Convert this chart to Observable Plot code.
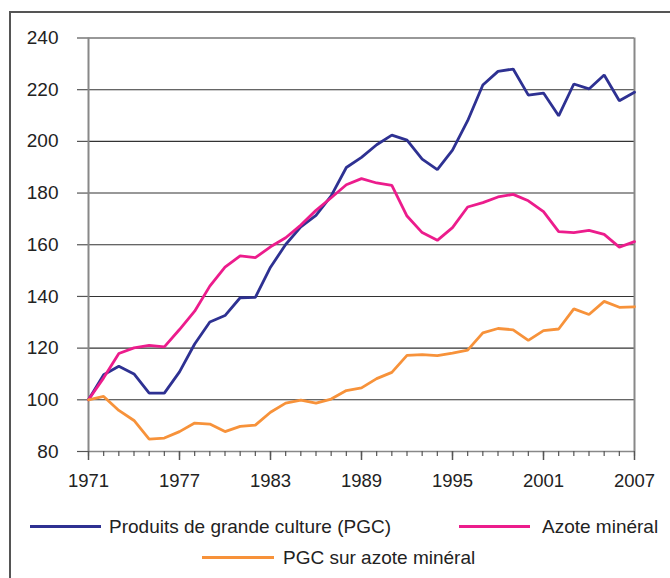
<!DOCTYPE html>
<html>
<head>
<meta charset="utf-8">
<script src="https://cdn.jsdelivr.net/npm/d3@7"></script>
<script src="https://cdn.jsdelivr.net/npm/@observablehq/plot@0.6"></script>
<style>
  html, body { margin: 0; padding: 0; background: #fff; }
  #wrap { position: relative; width: 670px; height: 578px; overflow: hidden; font-family: "Liberation Sans", Arial, sans-serif; color: #222; }
  #frame { position: absolute; left: 9px; top: 11px; width: 720px; height: 640px; border: 2px solid #555; box-sizing: border-box; }
  #chart { position: absolute; left: 0; top: 0; }
  .leg { position: absolute; font-size: 19px; line-height: 19px; white-space: nowrap; color: #222; }
</style>
</head>
<body>
<div id="wrap">
  <div id="frame"></div>
  <div id="chart"></div>
  <div id="legend"></div>
</div>
<script>
const years = d3.range(1971, 2008);
const pgc = [100, 109.7, 113, 110, 102.6, 102.6, 110.8, 121.6, 130.1, 132.6, 139.5, 139.6, 151.3,
  160.1, 166.9, 171.4, 178.9, 189.9, 193.8, 198.7, 202.4, 200.5, 193.1, 189.1, 196.6,
  208, 221.8, 227.1, 228, 217.9, 218.7, 209.9, 222.2, 220.3, 225.7, 215.7, 219];
const azote = [100, 108.5, 117.9, 120.1, 121.1, 120.5, 127.2, 134.3, 144, 151.3, 155.7, 155, 159.2,
  162.7, 167.6, 173.3, 178.2, 183.2, 185.6, 183.9, 183, 171.1, 164.7, 161.7, 166.6,
  174.6, 176.3, 178.5, 179.5, 177, 172.8, 165.1, 164.7, 165.6, 164, 159.1, 161.2];
const ratio = [100, 101.3, 95.9, 92, 84.8, 85.2, 87.7, 91, 90.6, 87.7, 89.7, 90.2, 95.2,
  98.7, 99.9, 98.7, 100.3, 103.6, 104.6, 108.2, 110.6, 117.2, 117.5, 117.1, 118.1,
  119.2, 125.9, 127.6, 127.1, 123, 126.8, 127.4, 135.2, 133, 138.1, 135.8, 136];
const seriesNames = ["Produits de grande culture (PGC)", "Azote minéral", "PGC sur azote minéral"];
const seriesColors = ["#2e3192", "#ec1c8c", "#f7923a"];
const yTicks = [80, 100, 120, 140, 160, 180, 200, 220, 240];
const xMajor = [1971, 1977, 1983, 1989, 1995, 2001, 2007];

const data = [];
[pgc, azote, ratio].forEach((arr, i) => arr.forEach((v, j) => data.push({year: years[j], value: v, series: seriesNames[i]})));

const chart = Plot.plot({
  width: 670,
  height: 500,
  marginLeft: 88,
  marginRight: 36,
  marginTop: 37.5,
  marginBottom: 49,
  style: {fontFamily: '"Liberation Sans", Arial, sans-serif', fontSize: "19px", color: "#222", background: "transparent", overflow: "visible"},
  x: {domain: [1971, 2007]},
  y: {domain: [80, 240]},
  color: {domain: seriesNames, range: seriesColors},
  marks: [
    Plot.gridY(yTicks, {stroke: "#333", strokeOpacity: 1, strokeWidth: 1.1}),
    Plot.axisY(yTicks, {tickSize: 11, tickPadding: 19, stroke: "#555", strokeWidth: 1.2, label: null, fontSize: 19, fill: "#222"}),
    Plot.ruleX([1971], {y1: 80, y2: 240, stroke: "#888", strokeWidth: 2}),
    Plot.ruleX([2007], {y1: 80, y2: 240, stroke: "#888", strokeWidth: 2}),
    Plot.ruleY([80], {stroke: "#888", strokeWidth: 1.5}),
    Plot.axisX(years, {tickSize: 5, tickFormat: () => "", stroke: "#555", strokeWidth: 1.2, label: null}),
    Plot.axisX(xMajor, {tickSize: 9, tickPadding: 13, tickFormat: d => String(d), stroke: "#555", strokeWidth: 1.5, label: null, fontSize: 18.5, fill: "#222"}),
    Plot.line(data, {x: "year", y: "value", z: "series", stroke: "series", strokeWidth: 2.8, strokeLinejoin: "miter"})
  ]
});
document.getElementById("chart").appendChild(chart);

// legend (HTML, below the plot)
const legendItems = [
  {name: seriesNames[0], color: seriesColors[0], lx: 30, lw: 71, tx: 109, base: 533},
  {name: seriesNames[1], color: seriesColors[1], lx: 459, lw: 71, tx: 542, base: 533},
  {name: seriesNames[2], color: seriesColors[2], lx: 202, lw: 72, tx: 283, base: 564}
];
const leg = document.getElementById("legend");
legendItems.forEach(it => {
  const sw = document.createElement("div");
  sw.style.cssText = `position:absolute;left:${it.lx}px;top:${it.base - 8.5}px;width:${it.lw}px;height:3px;background:${it.color}`;
  leg.appendChild(sw);
  const t = document.createElement("div");
  t.className = "leg";
  t.textContent = it.name;
  t.style.left = it.tx + "px";
  t.style.top = (it.base - 16) + "px";
  leg.appendChild(t);
});
</script>
</body>
</html>
